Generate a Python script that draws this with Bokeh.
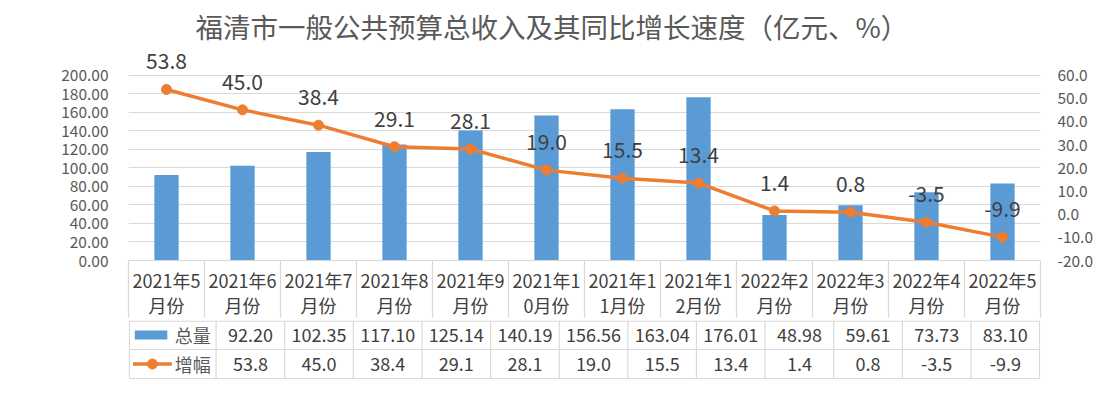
from bokeh.plotting import figure
from bokeh.models import (Range1d, LinearAxis, FixedTicker, PrintfTickFormatter,
                          ColumnDataSource, LabelSet)
from bokeh.layouts import column
from bokeh.embed import file_html
from bokeh.resources import INLINE
from bokeh.core.properties import value

# ---------------- data ----------------
title_text = "福清市一般公共预算总收入及其同比增长速度（亿元、%）"
categories = ["2021年5月份", "2021年6月份", "2021年7月份", "2021年8月份",
              "2021年9月份", "2021年10月份", "2021年11月份", "2021年12月份",
              "2022年2月份", "2022年3月份", "2022年4月份", "2022年5月份"]
total = [92.20, 102.35, 117.10, 125.14, 140.19, 156.56, 163.04, 176.01,
         48.98, 59.61, 73.73, 83.10]
growth = [53.8, 45.0, 38.4, 29.1, 28.1, 19.0, 15.5, 13.4, 1.4, 0.8, -3.5, -9.9]
series_names = ["总量", "增幅"]
left_ticks = [0, 20, 40, 60, 80, 100, 120, 140, 160, 180, 200]
right_ticks = [-20, -10, 0, 10, 20, 30, 40, 50, 60]

# ---------------- styles ----------------
FONT = "Noto Sans CJK SC"
BLUE = "#5B9BD5"
ORANGE = "#ED7D31"
AXIS_TXT = "#595959"
DARK_TXT = "#404040"
GRID = "#D9D9D9"
W = 1100
UNIT = 76.0            # px per category
FR_L, FR_R = 128, 1040  # frame left/right (px)
FR_T, FR_B = 47, 263    # frame top/bottom (px)
Y0_PX, Y200_PX = 263, 75
HDR_H = 57              # header row height (px)

n = len(categories)
xs = list(range(n))
src = ColumnDataSource(dict(
    x=xs, total=total, growth=growth,
    glabel=[f"{g:.1f}" for g in growth],
    tlabel=[f"{t:.2f}" for t in total],
))

# ---------------- main chart ----------------
px_left = (Y0_PX - Y200_PX) / (left_ticks[-1] - left_ticks[0])
px_right = (Y0_PX - Y200_PX) / (right_ticks[-1] - right_ticks[0])
extra_top = Y200_PX - FR_T
p = figure(width=W, height=FR_B + HDR_H, output_backend="svg", toolbar_location=None,
           x_range=Range1d(-0.5, n - 0.5),
           y_range=Range1d(left_ticks[0], left_ticks[-1] + extra_top / px_left),
           x_axis_type=None, min_border_left=FR_L, min_border_right=W - FR_R,
           min_border_top=FR_T, min_border_bottom=HDR_H)
p.outline_line_color = None
p.background_fill_color = "white"
p.border_fill_color = "white"

p.title.text = title_text
p.title.align = "left"
p.title.offset = 67
p.title.standoff = 4
p.title.text_font = FONT
p.title.text_font_size = "27.5px"
p.title.text_font_style = "normal"
p.title.text_color = AXIS_TXT

p.extra_y_ranges = {"pct": Range1d(right_ticks[0],
                                   right_ticks[-1] + extra_top / px_right)}

yl = p.yaxis[0]
yl.ticker = FixedTicker(ticks=left_ticks)
yl.formatter = PrintfTickFormatter(format="%.2f")
yl.axis_line_color = None
yl.major_tick_line_color = None
yl.minor_tick_line_color = None
yl.major_label_standoff = 14
yl.major_label_text_font = FONT
yl.major_label_text_font_size = "15.5px"
yl.major_label_text_color = AXIS_TXT

yr = LinearAxis(y_range_name="pct", ticker=FixedTicker(ticks=right_ticks),
                formatter=PrintfTickFormatter(format="%.1f"))
yr.axis_line_color = None
yr.major_tick_line_color = None
yr.minor_tick_line_color = None
yr.major_label_standoff = 11
yr.major_label_text_font = FONT
yr.major_label_text_font_size = "15.5px"
yr.major_label_text_color = AXIS_TXT
p.add_layout(yr, "right")

# category axis = header row of the data table
xa = LinearAxis(ticker=FixedTicker(ticks=xs, minor_ticks=[k - 0.5 for k in range(n + 1)]),
                major_label_overrides={i: c[:6] + "\n" + c[6:] for i, c in enumerate(categories)})
xa.axis_line_color = GRID
xa.axis_line_width = 1.2
xa.major_tick_line_color = None
xa.major_tick_in = 0
xa.major_tick_out = 0
xa.minor_tick_line_color = GRID
xa.minor_tick_line_width = 1.2
xa.minor_tick_in = 0
xa.minor_tick_out = HDR_H
xa.major_label_standoff = 6 - HDR_H
xa.major_label_text_font = FONT
xa.major_label_text_font_size = "18px"
xa.major_label_text_color = DARK_TXT
xa.major_label_text_line_height = 0.97
p.add_layout(xa, "below")

p.ygrid.ticker = FixedTicker(ticks=left_ticks)
p.ygrid.grid_line_color = GRID
p.ygrid.grid_line_width = 1

p.vbar(x="x", top="total", width=0.32, bottom=0, source=src,
       fill_color=BLUE, line_color=None)
p.line(x="x", y="growth", source=src, y_range_name="pct",
       line_color=ORANGE, line_width=3.5)
p.scatter(x="x", y="growth", source=src, y_range_name="pct", size=10,
          fill_color=ORANGE, line_color=ORANGE)

labels = LabelSet(x="x", y="growth", text="glabel", source=src,
                  y_range_name="pct", y_offset=28, text_align="center",
                  text_baseline="middle", text_font=value(FONT),
                  text_font_size="21px", text_color=DARK_TXT)
p.add_layout(labels)

# ---------------- data table rows ----------------
TB_L = 31
t_left = -0.5 - (FR_L - TB_L) / UNIT
t_right = n - 0.5 + 1 / UNIT
TH = 64
t = figure(width=W, height=TH, output_backend="svg", toolbar_location=None,
           x_range=Range1d(t_left, t_right), y_range=Range1d(TH, 0),
           x_axis_type=None, y_axis_type=None,
           min_border_left=TB_L, min_border_right=W - FR_R - 1,
           min_border_top=0, min_border_bottom=0)
t.outline_line_color = None
t.background_fill_color = "white"
t.border_fill_color = "white"


def px(xp):
    return t_left + (xp - TB_L) / UNIT


row_lines = [0.6, 29, 58]
edge_l = px(TB_L + 1)
t.segment(x0=[edge_l] * 3, y0=row_lines, x1=[n - 0.5] * 3, y1=row_lines,
          line_color=GRID, line_width=1.2)
vx = [edge_l] + [k - 0.5 for k in range(n + 1)]
t.segment(x0=vx, y0=[0] * len(vx), x1=vx, y1=[row_lines[-1]] * len(vx),
          line_color=GRID, line_width=1.2)

tf = dict(text_font=value(FONT), text_font_size="18px", text_color=DARK_TXT,
          text_align="center", text_baseline="middle")
t.text(x="x", y=14.5, text="tlabel", source=src, **tf)
t.text(x="x", y=43.5, text="glabel", source=src, **tf)

# legend keys
t.rect(x=[px(56)], y=[14.5], width=36 / UNIT, height=9,
       fill_color=BLUE, line_color=None)
t.segment(x0=[px(36)], y0=[43.5], x1=[px(79)], y1=[43.5],
          line_color=ORANGE, line_width=3.5)
t.scatter(x=[px(57.5)], y=[43.5], size=10, fill_color=ORANGE,
          line_color=ORANGE)
t.text(x=[px(122)] * 2, y=[14.5, 43.5], text=series_names,
       text_font=value(FONT), text_font_size="18px", text_color=AXIS_TXT,
       text_align="right", text_baseline="middle")

layout = column(p, t, spacing=0)
open("out.html", "w").write(file_html(layout, INLINE))
